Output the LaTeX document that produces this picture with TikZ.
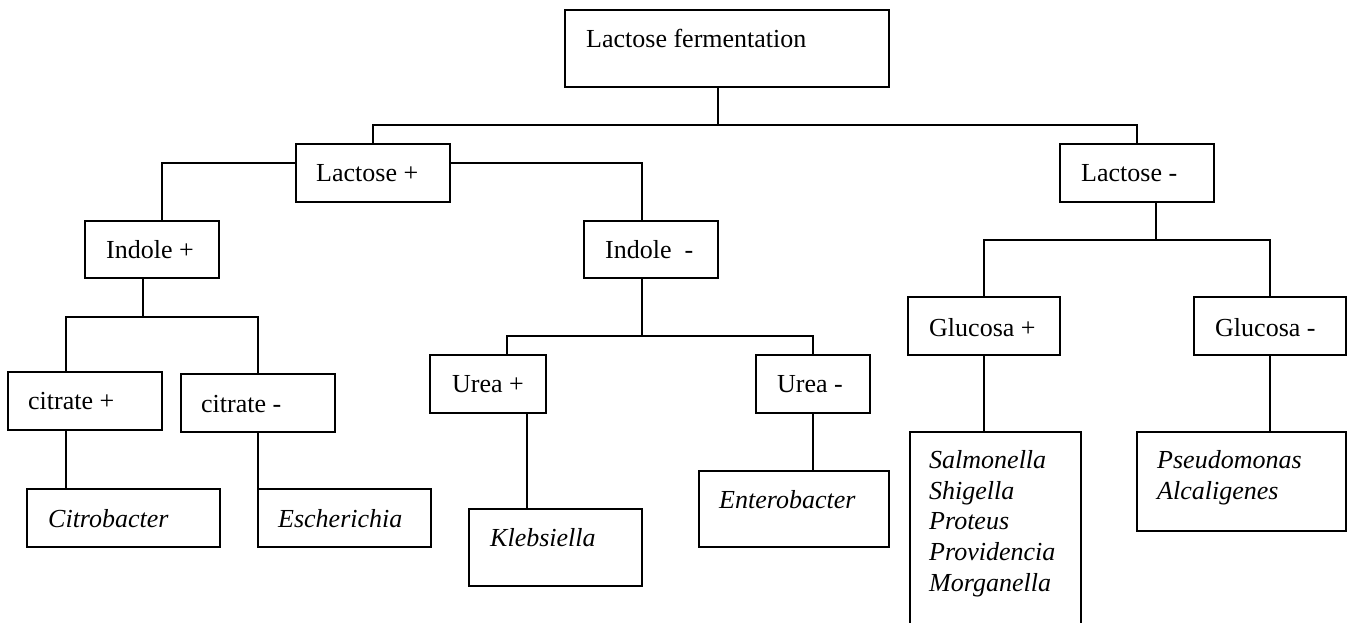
\documentclass[tikz,border=0pt]{standalone}
\usepackage{fontspec}
\setmainfont{Liberation Serif}
\begin{document}
\begin{tikzpicture}[x=1pt,y=-1pt,
  box/.style={draw=black, line width=1.6pt, inner sep=0pt, outer sep=0pt, anchor=north west, minimum width=#1},
  box/.default=100pt,
  txt/.style={inner sep=0pt, anchor=base west, font=\fontsize{26}{31}\selectfont},
  itxt/.style={txt, font=\fontsize{26}{31}\selectfont\itshape},
  conn/.style={draw=black, line width=1.4pt}]
\useasboundingbox (0,0) rectangle (1356,622);
\clip (0,0) rectangle (1356,622);
\fill[white] (0,0) rectangle (1356,622);
% boxes
\node[box=324pt, minimum height=77pt] (lf) at (565,10) {};
\node[box=154pt, minimum height=58pt] (lp) at (296,144) {};
\node[box=154pt, minimum height=58pt] (lm) at (1060,144) {};
\node[box=134pt, minimum height=57pt] (ip) at (85,221) {};
\node[box=134pt, minimum height=57pt] (im) at (584,221) {};
\node[box=154pt, minimum height=58pt] (cp) at (8,372) {};
\node[box=154pt, minimum height=58pt] (cm) at (181,374) {};
\node[box=193pt, minimum height=58pt] (cit) at (27,489) {};
\node[box=173pt, minimum height=58pt] (esc) at (258,489) {};
\node[box=116pt, minimum height=58pt] (up) at (430,355) {};
\node[box=114pt, minimum height=58pt] (um) at (756,355) {};
\node[box=173pt, minimum height=77pt] (kle) at (469,509) {};
\node[box=190pt, minimum height=76pt] (ent) at (699,471) {};
\node[box=152pt, minimum height=58pt] (gp) at (908,297) {};
\node[box=152pt, minimum height=58pt] (gm) at (1194,297) {};
\node[box=171pt, minimum height=210pt] (sal) at (910,432) {};
\node[box=209pt, minimum height=99pt] (pse) at (1137,432) {};
% texts
\node[txt] (lft) at (586,47) {Lactose fermentation};
\node[txt] (lpt) at (316,181) {Lactose +};
\node[txt] (lmt) at (1081,181) {Lactose -};
\node[txt] (ipt) at (106,258) {Indole +};
\node[txt] (imt) at (605,258) {Indole\ \ -};
\node[txt] (cpt) at (28,409) {citrate +};
\node[txt] (cmt) at (201,412) {citrate -};
\node[itxt] (citt) at (48,527) {Citrobacter};
\node[itxt] (esct) at (278,527) {Escherichia};
\node[txt] (upt) at (452,392) {Urea +};
\node[txt] (umt) at (777,392) {Urea -};
\node[itxt] (klet) at (490,546) {Klebsiella};
\node[itxt] (entt) at (719,508) {Enterobacter};
\node[txt] (gpt) at (929,336) {Glucosa +};
\node[txt] (gmt) at (1215,336) {Glucosa -};
\node[itxt] (salt1) at (929,468) {Salmonella};
\node[itxt] (salt2) at (929,499) {Shigella};
\node[itxt] (salt3) at (929,529) {Proteus};
\node[itxt] (salt4) at (929,560) {Providencia};
\node[itxt] (salt5) at (929,591) {Morganella};
\node[itxt] (pset1) at (1157,468) {Pseudomonas};
\node[itxt] (pset2) at (1157,499) {Alcaligenes};
% junctions
\coordinate (j1) at (718,125);
\coordinate (j2) at (143,317);
\coordinate (j3) at (642,336);
\coordinate (j4) at (1156,240);
% connectors
\draw[conn] ([xshift=-9pt]lf.south) -- (j1);
\draw[conn] (lp.north) |- (j1) -| (lm.north);
\draw[conn] ([yshift=10pt]lp.west) -| ([xshift=10pt]ip.north);
\draw[conn] ([yshift=10pt]lp.east) -| ([xshift=-9pt]im.north);
\draw[conn] ([xshift=-9pt]ip.south) -- (j2);
\draw[conn] ([xshift=-19pt]cp.north) |- (j2) -| (cm.north);
\draw[conn] ([xshift=-19pt]cp.south) -- ([xshift=-19pt]cp.south |- cit.north);
\draw[conn] (cm.south) -- (esc.north west);
\draw[conn] ([xshift=-9pt]im.south) -- (j3);
\draw[conn] ([xshift=19pt]up.north) |- (j3) -| (um.north);
\draw[conn] ([xshift=39pt]up.south) -- ([xshift=39pt]up.south |- kle.north);
\draw[conn] (um.south) -- (um.south |- ent.north);
\draw[conn] ([xshift=19pt]lm.south) -- (j4);
\draw[conn] (gp.north) |- (j4) -| (gm.north);
\draw[conn] (gp.south) -- (gp.south |- sal.north);
\draw[conn] (gm.south) -- (gm.south |- pse.north);
\end{tikzpicture}
\end{document}
